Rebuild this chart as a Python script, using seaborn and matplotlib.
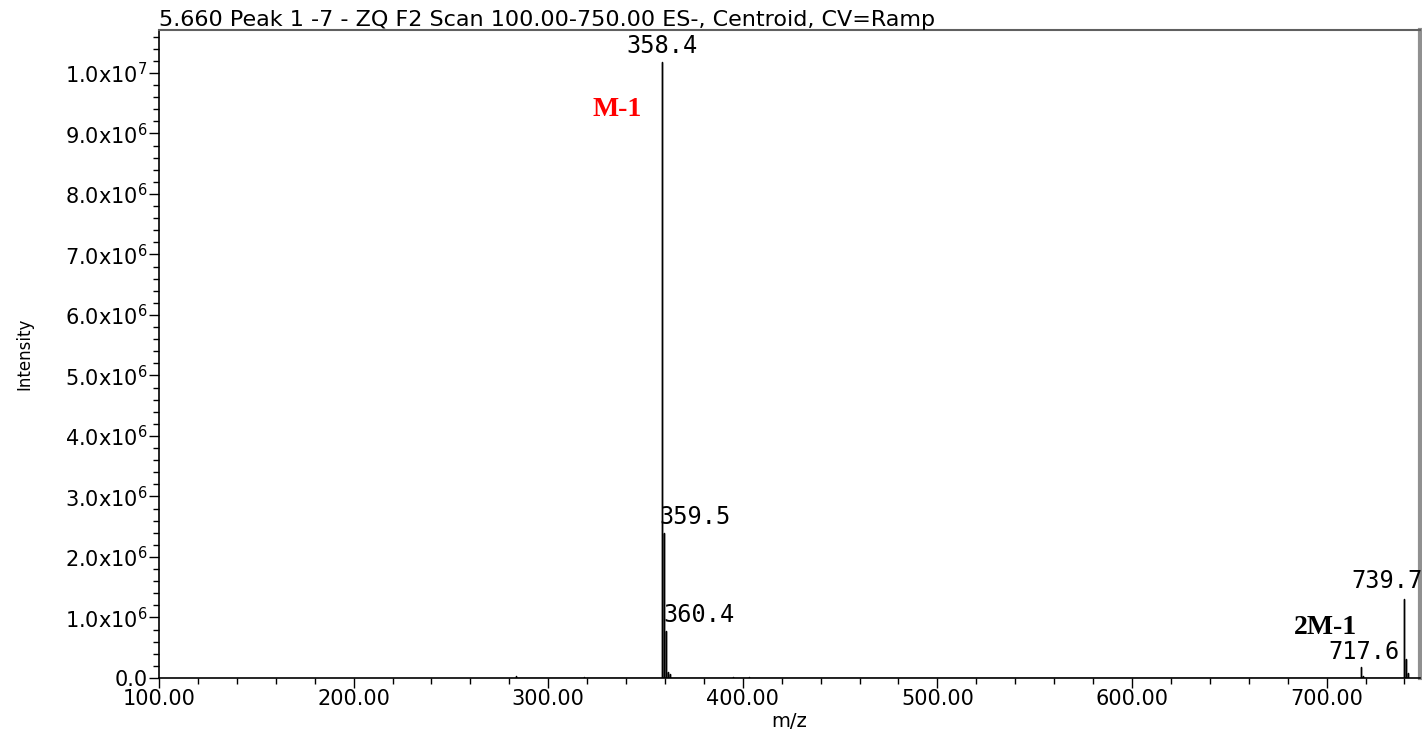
import numpy as np
import pandas as pd
import matplotlib
matplotlib.use("Agg")
import matplotlib.pyplot as plt
from matplotlib.ticker import MultipleLocator, FixedLocator, FixedFormatter
import seaborn as sns

# ---- data ----
mz = [283.5, 318.5, 358.4, 359.5, 360.4, 361.4, 362.4, 395.0, 403.0,
      717.6, 718.6, 739.7, 740.7, 741.7]
intensity = [0.03e6, 0.02e6, 10.18e6, 2.40e6, 0.77e6, 0.10e6, 0.06e6, 0.02e6, 0.02e6,
             0.18e6, 0.04e6, 1.31e6, 0.32e6, 0.08e6]
labeled_peaks = [358.4, 359.5, 360.4, 717.6, 739.7]
peak_label_text = ["358.4", "359.5", "360.4", "717.6", "739.7"]
ytick_values = [0, 1e6, 2e6, 3e6, 4e6, 5e6, 6e6, 7e6, 8e6, 9e6, 1e7]
ytick_labels = ["0.0"] + [r"$\mathdefault{%d.0x10^{6}}$" % i for i in range(1, 10)] + [r"$\mathdefault{1.0x10^{7}}$"]
xtick_values = [100, 200, 300, 400, 500, 600, 700]
title_text = "5.660 Peak 1 -7 - ZQ F2 Scan 100.00-750.00 ES-, Centroid, CV=Ramp"
annot_m1 = ("M-1", 335.5, 9.39e6)
annot_2m1 = ("2M-1", 699.5, 0.84e6)

# ---- stick table built from the arrays ----
xs, ys = [], []
for m, h in zip(mz, intensity):
    xs += [m, m, m]
    ys += [0.0, h, 0.0]
df = pd.DataFrame({"mz": xs, "I": ys})

sns.set_style("white")
plt.rcParams["font.family"] = ["DejaVu Sans"]
plt.rcParams["text.color"] = "black"
plt.rcParams["axes.labelcolor"] = "black"

fig = plt.figure(figsize=(14.22, 7.29), dpi=100)
ax = fig.add_axes([159/1422, 51/729, (1420-159)/1422, (678-30)/729])

sns.lineplot(data=df, x="mz", y="I", sort=False, estimator=None,
             color="black", linewidth=1.0, ax=ax)

ax.set_xlim(100, 748)
ax.set_ylim(0, 10.71e6)

ax.xaxis.set_major_locator(FixedLocator(xtick_values))
ax.set_xticklabels(["%.2f" % v for v in xtick_values])
ax.xaxis.set_minor_locator(MultipleLocator(20))
ax.yaxis.set_major_locator(FixedLocator(ytick_values))
ax.yaxis.set_major_formatter(FixedFormatter(ytick_labels))
ax.yaxis.set_minor_locator(MultipleLocator(2e5))

ax.tick_params(axis="both", which="both", bottom=True, left=True, top=False, right=False)
ax.tick_params(axis="both", which="major", direction="out", length=7, width=1,
               color="black", labelsize=15, labelcolor="black")
ax.tick_params(axis="both", which="minor", direction="out", length=4, width=1, color="black")
ax.tick_params(axis="y", which="major", pad=1)
ax.tick_params(axis="x", which="major", pad=1)

for s in ["left", "bottom"]:
    ax.spines[s].set_color("black")
    ax.spines[s].set_linewidth(1.2)
ax.spines["top"].set_color("#606060")
ax.spines["top"].set_linewidth(1.5)
ax.spines["right"].set_color("#909090")
ax.spines["right"].set_linewidth(3)

ax.set_xlabel("m/z", fontsize=14, labelpad=2, color="black")
ax.set_ylabel("Intensity", fontsize=12, color="black")
ax.yaxis.set_label_coords(-0.1, 0.5)

fig.text(159/1422, 1 - 20/729, title_text, ha="left", va="center", fontsize=16, color="black")

# peak labels
label_style = {358.4: ("center", 0, 3), 359.5: ("left", -3, 3), 360.4: ("left", -2, 3),
               717.6: ("center", 2, 2), 739.7: ("center", -12, 4)}
for m, t in zip(labeled_peaks, peak_label_text):
    h = intensity[mz.index(m)]
    ha, dx, dy = label_style[m]
    ax.annotate(t, xy=(m, h), xytext=(dx, dy), textcoords="offset points",
                ha=ha, va="bottom", fontsize=17, family="DejaVu Sans Mono",
                color="black", annotation_clip=False)

ax.text(annot_m1[1], annot_m1[2], annot_m1[0], color="red", fontsize=20,
        fontweight="bold", family="Liberation Serif", ha="center", va="center")
ax.text(annot_2m1[1], annot_2m1[2], annot_2m1[0], color="black", fontsize=20,
        fontweight="bold", family="Liberation Serif", ha="center", va="center")

fig.savefig("out.png", dpi=100)
